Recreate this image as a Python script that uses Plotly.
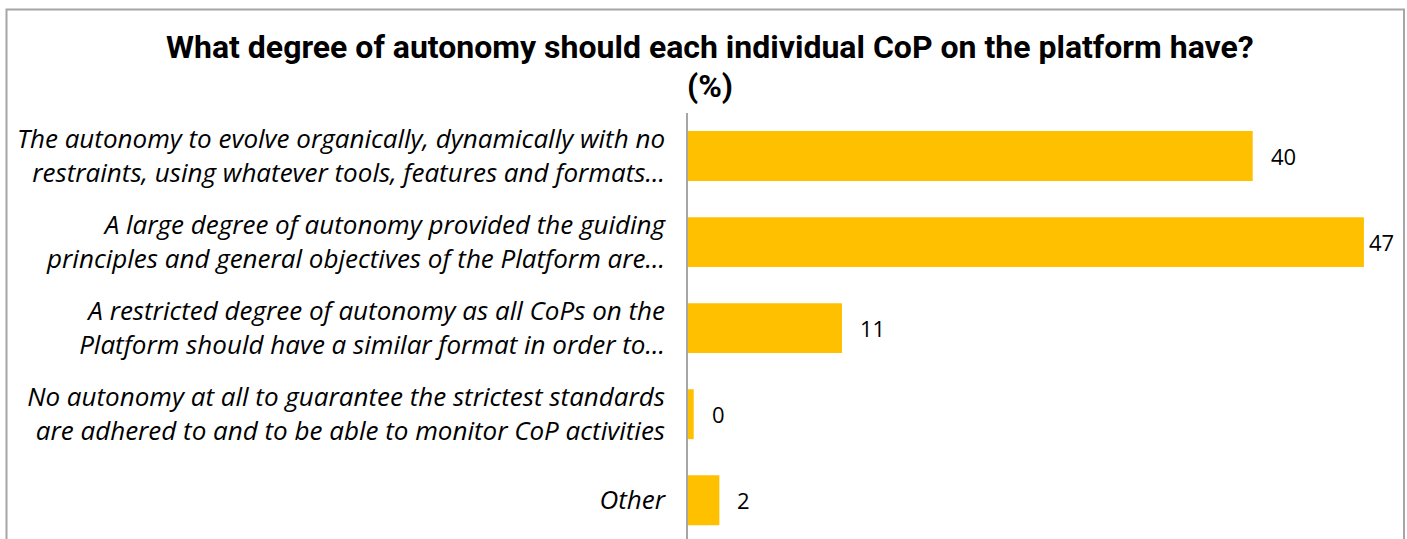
import plotly.graph_objects as go

# Survey answers (share of respondents, %)
categories = [
    "The autonomy to evolve organically, dynamically with no<br>restraints, using whatever tools, features and formats...",
    "A large degree of autonomy provided the guiding<br>principles and general objectives of the Platform are...",
    "A restricted degree of autonomy as all CoPs on the<br>Platform should have a similar format in order to...",
    "No autonomy at all to guarantee the strictest standards<br>are adhered to and to be able to monitor CoP activities",
    "Other",
]
values = [39.6, 47.4, 10.8, 0.4, 2.2]
label_shift = [16, 3, 16, 16, 16]

title_lines = [
    "What degree of autonomy should each individual CoP on the platform have?",
    "(%)",
]

BAR_COLOR = "#FFC000"
W, H = 1407, 539
M_L, M_R, M_T, M_B = 688, 17, 113, 0

fig = go.Figure()
fig.add_trace(go.Bar(
    x=values,
    y=categories,
    orientation="h",
    marker=dict(color=BAR_COLOR, line=dict(width=0)),
    width=0.58,
    hoverinfo="x+y",
))

# value labels next to each bar
for cat, v, dx in zip(categories, values, label_shift):
    fig.add_annotation(
        x=v, y=cat, xref="x", yref="y",
        text=f"{v:.0f}", showarrow=False,
        xanchor="left", yanchor="middle", xshift=dx,
        font=dict(family="Open Sans", size=22, color="#000000"),
    )

plot_w = W - M_L - M_R
plot_h = H - M_T - M_B

# two-line bold title, positioned in page pixels then mapped to plot-area paper coords
for line, y_px in zip(title_lines, [47, 86]):
    fig.add_annotation(
        x=(710 - M_L) / plot_w, y=(H - M_B - y_px) / plot_h,
        xref="paper", yref="paper",
        xanchor="center", yanchor="middle", showarrow=False,
        text=line,
        font=dict(family="Roboto", size=32, color="#000000", weight="bold"),
    )

# outer frame around the whole chart
fig.add_shape(
    type="rect", xref="paper", yref="paper",
    x0=(6.5 - M_L) / plot_w, x1=(W - 3 - M_L) / plot_w,
    y0=-0.2, y1=(H - 9.5) / plot_h,
    line=dict(color="#A6A6A6", width=2), fillcolor="rgba(0,0,0,0)",
    layer="below",
)

fig.update_layout(
    width=W, height=H,
    margin=dict(l=M_L, r=M_R, t=M_T, b=M_B),
    paper_bgcolor="white", plot_bgcolor="white",
    showlegend=False,
    xaxis=dict(
        range=[0, plot_w / 14.26],
        showgrid=False, zeroline=False, showline=False,
        showticklabels=False, ticks="",
    ),
    yaxis=dict(
        type="category",
        range=[4.45, -0.5],
        showgrid=False, zeroline=False,
        showline=True, linecolor="#A6A6A6", linewidth=1.5,
        ticks="", ticklabelstandoff=16,
        tickfont=dict(family="Open Sans", size=26, color="#000000", style="italic"),
    ),
)

fig.write_html("out.html")
